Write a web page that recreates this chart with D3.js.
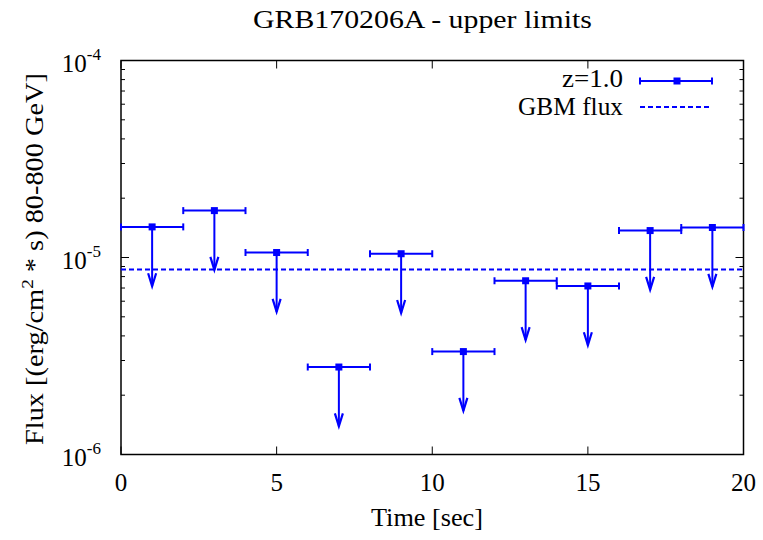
<!DOCTYPE html>
<html>
<head>
<meta charset="utf-8">
<script src="https://cdn.jsdelivr.net/npm/d3@7"></script>
<style>
  body { margin: 0; background: #fff; }
  svg { display: block; }
</style>
</head>
<body>
<div id="chart"></div>
<script>
// time bin centres (sec), half-width of each bin, flux upper limits
const binCentres = [1, 3, 5, 7, 9, 11, 13, 15, 17, 19];
const binHalfWidth = [1, 1, 1, 1, 1, 1, 1, 1, 1, 1];
const fluxLimits = [1.43e-5, 1.73e-5, 1.06e-5, 2.78e-6, 1.045e-5, 3.33e-6, 7.62e-6, 7.17e-6, 1.37e-5, 1.42e-5];
const gbmFlux = 8.7e-6;
const xTicks = [0, 5, 10, 15, 20];
const yTicks = [1e-6, 1e-5, 1e-4];

const width = 763, height = 540;
const margin = { top: 60.5, right: 19.5, bottom: 85.5, left: 121 };
const blue = "#0000ff";
const font = "'Liberation Serif', 'DejaVu Serif', serif";
const fs = 25;

const svg = d3.select("#chart").append("svg")
    .attr("width", width)
    .attr("height", height)
    .style("font-family", font);

const x = d3.scaleLinear().domain([0, 20]).range([margin.left, width - margin.right]);
const y = d3.scaleLog().domain([1e-6, 1e-4]).range([height - margin.bottom, margin.top]);

const x0 = x(0), x1 = x(20), y0 = y(1e-6), y1 = y(1e-4);

// ticks (major + log minor), mirrored
const tk = svg.append("g").attr("stroke", "#000").attr("stroke-width", 1);
xTicks.forEach(t => {
  tk.append("line").attr("x1", x(t)).attr("x2", x(t)).attr("y1", y0).attr("y2", y0 - 8);
  tk.append("line").attr("x1", x(t)).attr("x2", x(t)).attr("y1", y1).attr("y2", y1 + 8);
});
for (let e = -6; e < -4; e++) {
  for (let m = 1; m <= 9; m++) {
    const v = m * Math.pow(10, e);
    const len = m === 1 ? 8 : 4;
    tk.append("line").attr("x1", x0).attr("x2", x0 + len).attr("y1", y(v)).attr("y2", y(v));
    tk.append("line").attr("x1", x1).attr("x2", x1 - len).attr("y1", y(v)).attr("y2", y(v));
  }
}

// frame
svg.append("rect")
    .attr("x", x0).attr("y", y1)
    .attr("width", x1 - x0).attr("height", y0 - y1)
    .attr("fill", "none").attr("stroke", "#000").attr("stroke-width", 1.5);

// tick labels
svg.append("g").selectAll("text").data(xTicks).join("text")
    .attr("x", d => x(d)).attr("y", y0 + 36)
    .attr("text-anchor", "middle").attr("font-size", fs)
    .text(d => d);

const yl = svg.append("g").selectAll("text").data(yTicks).join("text")
    .attr("x", 101).attr("y", d => y(d) + 11)
    .attr("text-anchor", "end").attr("font-size", fs);
yl.append("tspan").text("10");
yl.append("tspan").attr("dy", -12).attr("font-size", 17).text(d => Math.round(Math.log10(d)));

// titles
svg.append("text").attr("x", 422.5).attr("y", 28)
    .attr("text-anchor", "middle").attr("font-size", fs)
    .attr("textLength", 339).attr("lengthAdjust", "spacingAndGlyphs")
    .text("GRB170206A - upper limits");
svg.append("text").attr("x", 427).attr("y", 526)
    .attr("text-anchor", "middle").attr("font-size", fs)
    .attr("textLength", 112).attr("lengthAdjust", "spacingAndGlyphs")
    .text("Time [sec]");
const ylab = svg.append("text")
    .attr("transform", `translate(43,259) rotate(-90)`)
    .attr("text-anchor", "middle").attr("font-size", fs)
    .attr("textLength", 372).attr("lengthAdjust", "spacingAndGlyphs");
ylab.append("tspan").text("Flux [(erg/cm");
ylab.append("tspan").attr("dy", -10).attr("font-size", 17).text("2");
ylab.append("tspan").attr("dy", 10).text(" * s) 80-800 GeV]");

// GBM flux
svg.append("line")
    .attr("x1", x0).attr("x2", x1).attr("y1", y(gbmFlux)).attr("y2", y(gbmFlux))
    .attr("stroke", blue).attr("stroke-width", 2).attr("stroke-dasharray", "5,3");

// upper limits
const pts = svg.append("g").attr("stroke", blue).attr("stroke-width", 2).attr("fill", "none");
binCentres.forEach((c, i) => {
  const cx = x(c), cy = y(fluxLimits[i]);
  const xa = x(c - binHalfWidth[i]), xb = x(c + binHalfWidth[i]);
  const tip = y(fluxLimits[i] / 2);
  pts.append("line").attr("x1", xa).attr("x2", xb).attr("y1", cy).attr("y2", cy);
  pts.append("line").attr("x1", xa).attr("x2", xa).attr("y1", cy - 3.5).attr("y2", cy + 3.5);
  pts.append("line").attr("x1", xb).attr("x2", xb).attr("y1", cy - 3.5).attr("y2", cy + 3.5);
  pts.append("line").attr("x1", cx).attr("x2", cx).attr("y1", cy).attr("y2", tip);
  pts.append("path").attr("d", `M${cx - 4},${tip - 13}L${cx},${tip}L${cx + 4},${tip - 13}`)
      .attr("stroke-width", 2.2);
  svg.append("rect").attr("x", cx - 3.5).attr("y", cy - 3.5)
      .attr("width", 7).attr("height", 7).attr("fill", blue);
});

// legend
const lg = svg.append("g").attr("font-size", fs);
lg.append("text").attr("x", 623).attr("y", 87).attr("text-anchor", "end")
    .attr("textLength", 61).attr("lengthAdjust", "spacingAndGlyphs").text("z=1.0");
lg.append("text").attr("x", 623).attr("y", 115).attr("text-anchor", "end")
    .attr("textLength", 105).attr("lengthAdjust", "spacingAndGlyphs").text("GBM flux");
const ly = 81;
lg.append("line").attr("x1", 640).attr("x2", 712).attr("y1", ly).attr("y2", ly)
    .attr("stroke", blue).attr("stroke-width", 2);
[640, 712].forEach(px => lg.append("line").attr("x1", px).attr("x2", px)
    .attr("y1", ly - 3.5).attr("y2", ly + 3.5).attr("stroke", blue).attr("stroke-width", 2));
lg.append("rect").attr("x", 677 - 3.5).attr("y", ly - 3.5).attr("width", 7).attr("height", 7).attr("fill", blue);
lg.append("line").attr("x1", 640).attr("x2", 712).attr("y1", 107).attr("y2", 107)
    .attr("stroke", blue).attr("stroke-width", 2).attr("stroke-dasharray", "5,3");
</script>
</body>
</html>
